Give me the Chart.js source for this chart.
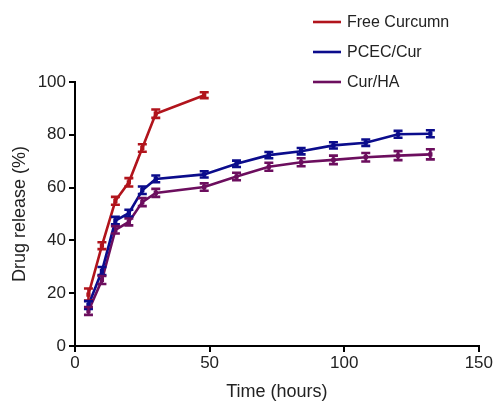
<!DOCTYPE html>
<html>
<head>
<meta charset="utf-8">
<script src="https://cdn.jsdelivr.net/npm/chart.js@4"></script>
<style>
  html, body { margin: 0; padding: 0; background: #fff; }
  #wrap { width: 494px; height: 403px; }
</style>
</head>
<body>
<div id="wrap"><canvas id="grafico"></canvas></div>
<script>
// Datos
const tiemposLibre = [5, 10, 15, 20, 25, 30, 48];
const tiemposLargos = [5, 10, 15, 20, 25, 30, 48, 60, 72, 84, 96, 108, 120, 132];

const libre = [19.5, 38, 55, 62, 75, 88, 95];
const libreErr = [2.3, 1.3, 1.5, 1.6, 1.4, 1.6, 1.1];

const pcec = [15.5, 28.4, 47.5, 50.3, 59, 63.3, 65, 69, 72.3, 73.8, 76, 77, 80.2, 80.4];
const pcecErr = [1.5, 1.5, 1.4, 1.3, 1.4, 1.3, 1.2, 1.2, 1.2, 1.2, 1.2, 1.2, 1.3, 1.3];

const curHA = [13.3, 25, 44, 47, 54.5, 58, 60.2, 64.2, 67.9, 69.6, 70.5, 71.5, 72.1, 72.6];
const curHAErr = [1.5, 1.5, 1.4, 1.3, 1.5, 1.5, 1.4, 1.4, 1.5, 1.5, 1.6, 1.6, 1.7, 1.9];

const xTicks = [0, 50, 100, 150];
const yTicks = [0, 20, 40, 60, 80, 100];

const etiquetas = ['Free Curcumn', 'PCEC/Cur', 'Cur/HA'];
const colores = ['#B1141C', '#0B0C8C', '#6C0E5E'];

const fuente = '"Liberation Sans", Arial, sans-serif';

function puntos(xs, ys) {
    return xs.map((x, i) => ({ x: x, y: ys[i] }));
}

// Plugin para barras de error
const barrasError = {
    id: 'barrasError',
    afterDatasetsDraw(chart) {
        const ctx = chart.ctx;
        const yScale = chart.scales.y;
        chart.data.datasets.forEach((ds, d) => {
            const meta = chart.getDatasetMeta(d);
            ctx.save();
            ctx.strokeStyle = ds.borderColor;
            ctx.lineWidth = 2.6;
            meta.data.forEach((pt, i) => {
                const v = ds.data[i].y;
                const e = ds.errores[i];
                const yA = yScale.getPixelForValue(v + e);
                const yB = yScale.getPixelForValue(v - e);
                ctx.beginPath();
                ctx.moveTo(pt.x, yA);
                ctx.lineTo(pt.x, yB);
                ctx.moveTo(pt.x - 4.5, yA);
                ctx.lineTo(pt.x + 4.5, yA);
                ctx.moveTo(pt.x - 4.5, yB);
                ctx.lineTo(pt.x + 4.5, yB);
                ctx.stroke();
            });
            ctx.restore();
        });
    }
};

// Plugin para leyenda vertical
const leyenda = {
    id: 'leyenda',
    afterDraw(chart) {
        const ctx = chart.ctx;
        const area = chart.chartArea;
        ctx.save();
        ctx.font = '16px ' + fuente;
        ctx.textBaseline = 'middle';
        chart.data.datasets.forEach((ds, i) => {
            const y = area.top - 60 + i * 30;
            const x0 = area.left + 238;
            ctx.strokeStyle = ds.borderColor;
            ctx.lineWidth = 2.6;
            ctx.beginPath();
            ctx.moveTo(x0, y);
            ctx.lineTo(x0 + 28, y);
            ctx.stroke();
            ctx.fillStyle = '#222';
            ctx.fillText(ds.label, x0 + 34, y + 1);
        });
        ctx.restore();
    }
};

function serie(i, xs, ys, errs) {
    return {
        label: etiquetas[i],
        data: puntos(xs, ys),
        errores: errs,
        borderColor: colores[i],
        backgroundColor: colores[i],
        borderWidth: 2.6,
        pointRadius: 3,
        pointStyle: 'rect',
        pointBorderWidth: 0,
        tension: 0
    };
}

const ctx = document.querySelector('#grafico').getContext('2d');
new Chart(ctx, {
    type: 'line',
    data: {
        datasets: [
            serie(0, tiemposLibre, libre, libreErr),
            serie(1, tiemposLargos, pcec, pcecErr),
            serie(2, tiemposLargos, curHA, curHAErr)
        ]
    },
    options: {
        responsive: true,
        maintainAspectRatio: false,
        animation: false,
        layout: { padding: { top: 82, right: 15, left: 9, bottom: 0 } },
        plugins: {
            legend: { display: false },
            tooltip: { enabled: false }
        },
        scales: {
            x: {
                type: 'linear',
                min: 0,
                max: 150,
                afterBuildTicks: (s) => { s.ticks = xTicks.map(v => ({ value: v })); },
                afterFit: (s) => { s.height = 57; },
                grid: { drawOnChartArea: false, drawTicks: true, tickLength: 6, color: '#000', lineWidth: 2 },
                border: { display: true, color: '#000', width: 2 },
                ticks: { color: '#222', font: { family: fuente, size: 17 }, padding: 1, maxRotation: 0 },
                title: { display: true, text: 'Time (hours)', color: '#222', font: { family: fuente, size: 18 }, padding: { top: 4, bottom: 0 } }
            },
            y: {
                min: 0,
                max: 100,
                afterBuildTicks: (s) => { s.ticks = yTicks.map(v => ({ value: v })); },
                afterFit: (s) => { s.width = 66; },
                grid: { drawOnChartArea: false, drawTicks: true, tickLength: 6, color: '#000', lineWidth: 2 },
                border: { display: true, color: '#000', width: 2 },
                ticks: { color: '#222', font: { family: fuente, size: 17 }, padding: 3 },
                title: { display: true, text: 'Drug release (%)', color: '#222', font: { family: fuente, size: 18 }, padding: { top: 0, bottom: 6 } }
            }
        }
    },
    plugins: [barrasError, leyenda]
});
</script>
</body>
</html>
